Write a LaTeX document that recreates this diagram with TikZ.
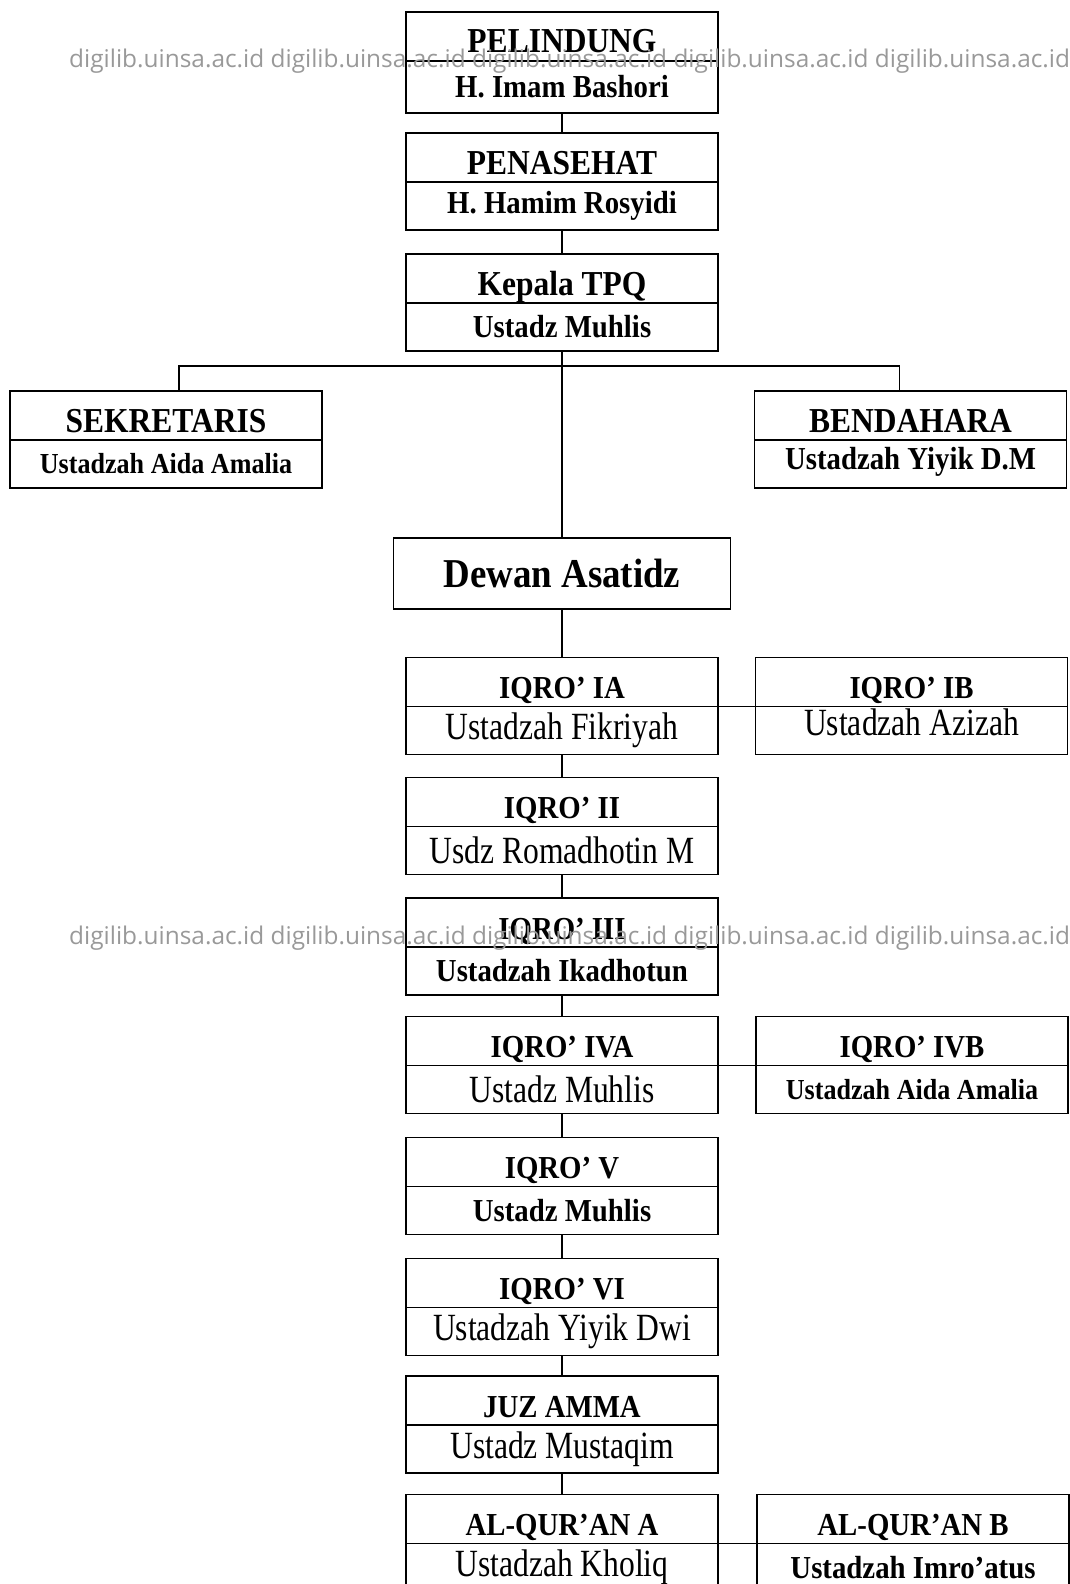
\documentclass[tikz,border=0pt]{standalone}
\usepackage{fontspec}
\setmainfont{Liberation Serif}[FakeStretch=0.9]
\newfontfamily\namefont{Liberation Serif}[FakeStretch=0.82]
\newfontfamily\wmfont{Open Sans}
\usetikzlibrary{positioning}

\begin{document}
\begin{tikzpicture}[x=1pt, y=-1pt,
  cell/.style={draw, line width=1.8pt, minimum width=312pt, inner sep=0pt, outer sep=0pt},
  head/.style={cell, text height=41pt, text depth=8pt, font=\fontsize{32}{36}\selectfont\bfseries},
  boss/.style={head, font=\fontsize{35}{40}\selectfont\bfseries},
  bname/.style={cell, minimum height=48pt, font=\fontsize{32}{36}\selectfont\bfseries},
  sname/.style={bname, font=\fontsize{29}{33}\selectfont\bfseries},
  pname/.style={cell, minimum height=48pt, font=\fontsize{38.5}{42}\selectfont\namefont},
  conn/.style={line width=1.4pt},
  wmark/.style={anchor=west, inner sep=0pt, text=black!40, font=\fontsize{24.4}{28}\selectfont\wmfont}]
  \useasboundingbox (0,0) rectangle (1070,1584);
  \clip (0,0) rectangle (1070,1584);
  % leaders
  \node[boss] (pel) at (562,36.5) {PELINDUNG};
  \node[bname, minimum height=52pt, below=0pt of pel] (pelN) {H. Imam Bashori};
  \node[boss] (pen) at (562,157.5) {PENASEHAT};
  \node[bname, below=0pt of pen] (penN) {H. Hamim Rosyidi};
  \node[boss] (kep) at (562,278.5) {Kepala TPQ};
  \node[bname, below=0pt of kep] (kepN) {Ustadz Muhlis};
  \node[boss] (sek) at (166,415.5) {SEKRETARIS};
  \node[sname, below=0pt of sek] (sekN) {Ustadzah Aida Amalia};
  \node[boss] (ben) at (910.5,415.5) {BENDAHARA};
  \node[bname, text height=29pt, text depth=19pt, minimum height=0pt, below=0pt of ben] (benN) {Ustadzah Yiyik D.M};
  \node[draw, line width=1.8pt, minimum width=337pt, minimum height=71pt,
    font=\fontsize{41}{46}\selectfont\bfseries] (dewan) at (562,573.5) {Dewan Asatidz};
  % classes
  \node[head] (ia) at (562,682) {IQRO’ IA};
  \node[pname, below=0pt of ia] (iaN) {Ustadzah Fikriyah};
  \node[head] (ib) at (911.5,682) {IQRO’ IB};
  \node[pname, text height=29pt, text depth=19pt, minimum height=0pt, below=0pt of ib] (ibN) {Ustadzah Azizah};
  \node[head] (ii) at (562,802) {IQRO’ II};
  \node[pname, below=0pt of ii] (iiN) {Usdz Romadhotin M};
  \node[head] (iii) at (562,922.5) {IQRO’ III};
  \node[bname, below=0pt of iii] (iiiN) {Ustadzah Ikadhotun};
  \node[head] (iva) at (562,1041) {IQRO’ IVA};
  \node[pname, below=0pt of iva] (ivaN) {Ustadz Muhlis};
  \node[head] (ivb) at (912,1041) {IQRO’ IVB};
  \node[sname, below=0pt of ivb] (ivbN) {Ustadzah Aida Amalia};
  \node[head] (v) at (562,1162) {IQRO’ V};
  \node[bname, below=0pt of v] (vN) {Ustadz Muhlis};
  \node[head] (vi) at (562,1283) {IQRO’ VI};
  \node[pname, below=0pt of vi] (viN) {Ustadzah Yiyik Dwi};
  \node[head] (juz) at (562,1400.5) {JUZ AMMA};
  \node[pname, below=0pt of juz] (juzN) {Ustadz Mustaqim};
  \node[head] (qa) at (562,1519) {AL-QUR’AN A};
  \node[pname, below=0pt of qa] (qaN) {Ustadzah Kholiq};
  \node[head] (qb) at (913,1519) {AL-QUR’AN B};
  \node[bname, below=0pt of qb] (qbN) {Ustadzah Imro’atus};
  % connectors
  \coordinate (bar) at (562,366);
  \draw[conn] (pelN) -- (pen);
  \draw[conn] (penN) -- (kep);
  \draw[conn] (kepN) -- (dewan);
  \draw[conn] ([xshift=13pt]sek.north) |- (bar) -| ([xshift=-11pt]ben.north);
  \draw[conn] (dewan) -- (ia);
  \draw[conn] (iaN) -- (ii);
  \draw[conn] (iiN) -- (iii);
  \draw[conn] (iiiN) -- (iva);
  \draw[conn] (ivaN) -- (v);
  \draw[conn] (vN) -- (vi);
  \draw[conn] (viN) -- (juz);
  \draw[conn] (juzN) -- (qa);
  \draw[conn] (ia.south east) -- (ib.south west);
  \draw[conn] (iva.south east) -- (ivb.south west);
  \draw[conn] (qa.south east) -- (qb.south west);
  % watermark
  \node[wmark] (wm1) at (69,61) {digilib.uinsa.ac.id digilib.uinsa.ac.id digilib.uinsa.ac.id digilib.uinsa.ac.id digilib.uinsa.ac.id};
  \node[wmark] (wm2) at (69,938) {digilib.uinsa.ac.id digilib.uinsa.ac.id digilib.uinsa.ac.id digilib.uinsa.ac.id digilib.uinsa.ac.id};
\end{tikzpicture}
\end{document}
